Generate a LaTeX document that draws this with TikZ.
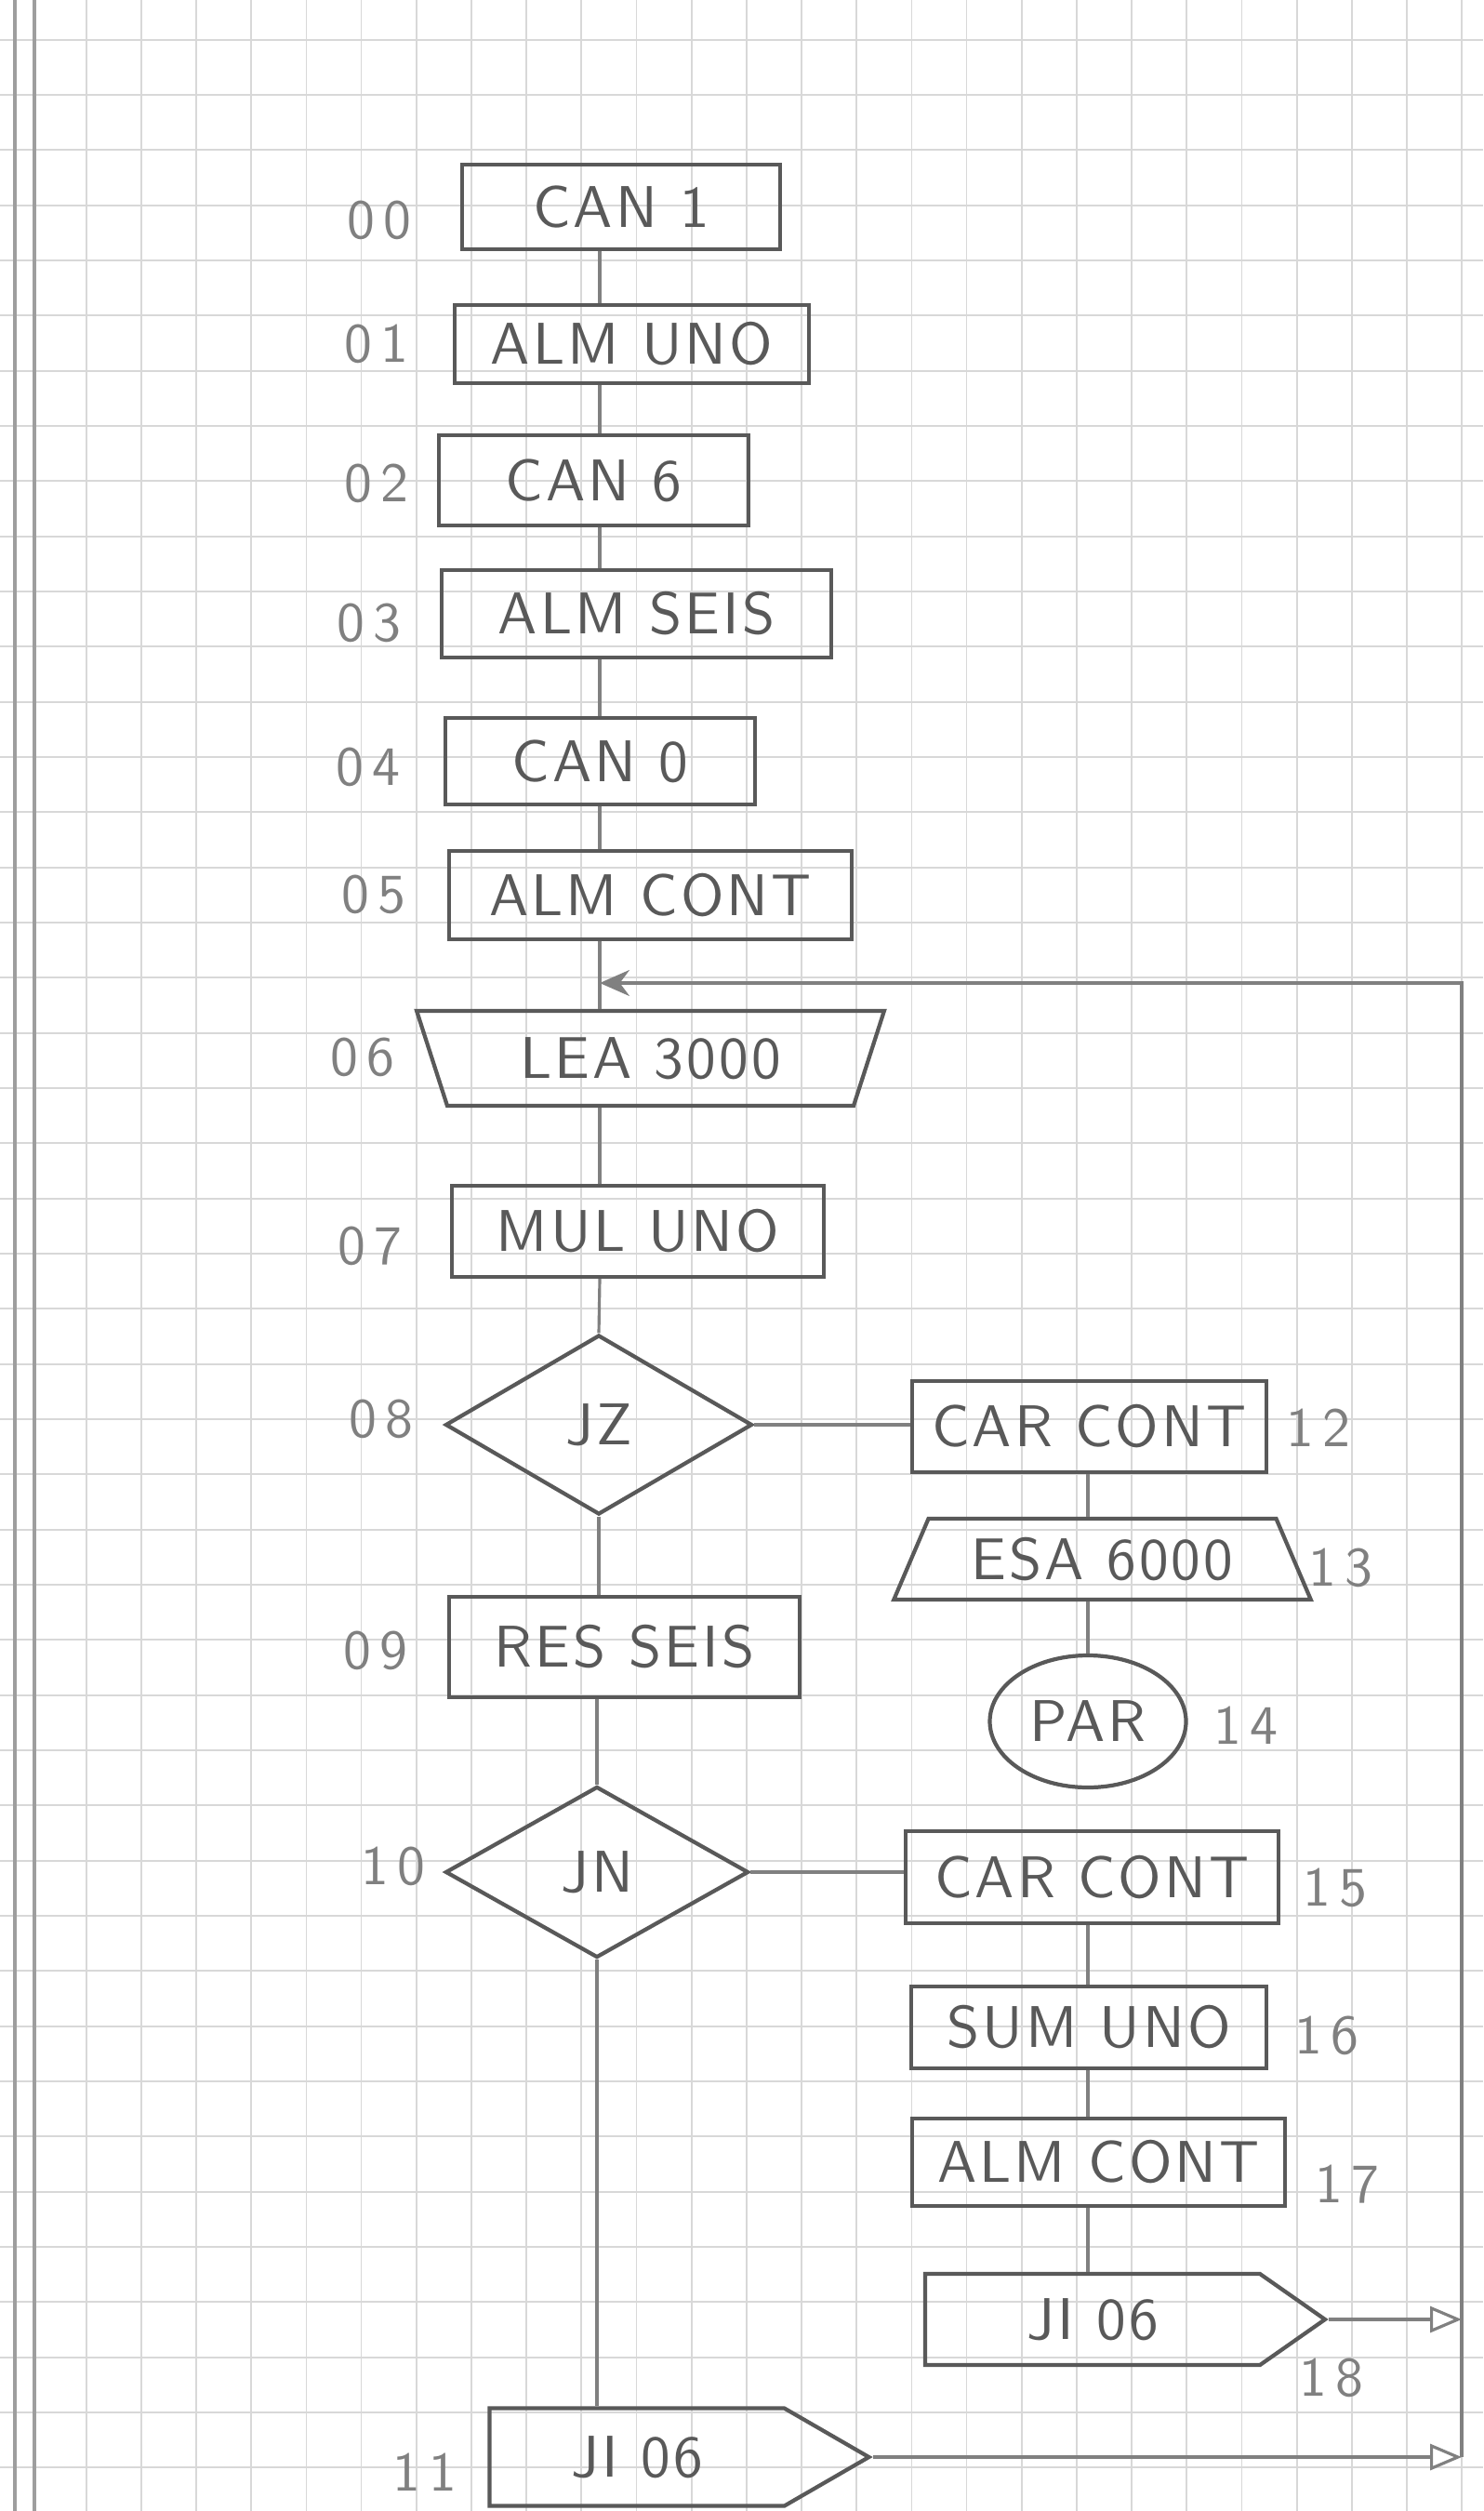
\documentclass[tikz,border=0pt]{standalone}
\usepackage{fontspec}
\usetikzlibrary{arrows.meta,shapes.geometric,shapes.symbols}
\definecolor{pencil}{HTML}{595959}
\definecolor{softlead}{HTML}{808080}
\definecolor{paperline}{HTML}{D8D8D8}
\definecolor{marginline}{HTML}{9E9E9E}
\newfontfamily\handfam{lmsans10-regular.otf}[LetterSpace=5]
\newfontfamily\addrfam{lmsans10-regular.otf}[LetterSpace=16]
\newcommand{\handfont}{\handfam\fontsize{18}{20}\selectfont}
\newcommand{\addrfont}{\addrfam\fontsize{17}{19}\selectfont}

\begin{document}
\begin{tikzpicture}[>=Stealth,
    every node/.style={font=\handfont, text=pencil, inner sep=0pt},
    instr/.style={rectangle, draw=pencil, line width=1.2pt},
    inbox/.style={trapezium, trapezium stretches=true, trapezium left angle=115, trapezium right angle=115, draw=pencil, line width=1.2pt},
    outbox/.style={trapezium, trapezium stretches=true, trapezium left angle=59, trapezium right angle=59, draw=pencil, line width=1.2pt},
    test/.style={diamond, aspect=1.7, draw=pencil, line width=1.2pt},
    haltnode/.style={ellipse, draw=pencil, line width=1.2pt},
    jumpbox/.style={signal, signal to=east, draw=pencil, line width=1.2pt},
    addr/.style={font=\addrfont, text=softlead},
    link/.style={draw=softlead, line width=0.9pt},
    gridline/.style={draw=paperline, line width=0.5pt}]
  % graph paper
  \fill[white] (0,0) rectangle (15.95,-27);
  \useasboundingbox (0,0) rectangle (15.95,-27);
  \foreach \k in {0,...,25} \draw[gridline] ({0.927+0.5918*\k},0) -- ++(0,-27);
  \foreach \k in {0,...,44} \draw[gridline] (0,{-0.427-0.5933*\k}) -- ++(15.95,0);
  \draw[marginline, line width=1.1pt] (0.16,0) -- (0.16,-27);
  \draw[marginline, line width=1.1pt] (0.37,0) -- (0.37,-27);

  \coordinate (spine) at (6.45,0);
  \coordinate (rspine) at (11.70,0);

  % main column
  \node[instr, minimum width=3.42cm, minimum height=0.91cm] (b00) at (6.68,-2.225) {CAN 1};
  \node[instr, minimum width=3.81cm, minimum height=0.84cm] (b01) at (6.795,-3.70) {ALM UNO};
  \node[instr, minimum width=3.33cm, minimum height=0.97cm] (b02) at (6.385,-5.165) {CAN 6};
  \node[instr, minimum width=4.19cm, minimum height=0.94cm] (b03) at (6.845,-6.60) {ALM SEIS};
  \node[instr, minimum width=3.33cm, minimum height=0.93cm] (b04) at (6.455,-8.185) {CAN 0};
  \node[instr, minimum width=4.33cm, minimum height=0.95cm] (b05) at (6.995,-9.625) {ALM CONT};
  \node[inbox, minimum width=5.07cm, minimum height=1.02cm] (t06) at (6.995,-11.38) {LEA 3000};
  \node[instr, minimum width=4.00cm, minimum height=0.98cm] (b07) at (6.86,-13.24) {MUL UNO};
  \node[test, minimum width=3.30cm, minimum height=1.93cm] (d08) at (6.44,-15.32) {JZ};
  \node[instr, minimum width=3.77cm, minimum height=1.08cm] (b09) at (6.715,-17.71) {RES SEIS};
  \node[test, minimum width=3.26cm, minimum height=1.84cm] (d10) at (6.42,-20.13) {JN};
  \node[jumpbox, signal pointer angle=60, minimum width=4.08cm, minimum height=1.05cm] (p11) at (6.85,-26.42) {JI 06};

  % right column
  \node[instr, minimum width=3.81cm, minimum height=0.98cm] (b12) at (11.715,-15.34) {CAR CONT};
  \node[outbox, minimum width=4.49cm, minimum height=0.87cm] (t13) at (11.855,-16.765) {ESA 6000};
  \node[haltnode, minimum width=2.11cm, minimum height=1.42cm] (e14) at (11.70,-18.51) {PAR};
  \node[instr, minimum width=4.01cm, minimum height=0.99cm] (b15) at (11.745,-20.185) {CAR CONT};
  \node[instr, minimum width=3.82cm, minimum height=0.88cm] (b16) at (11.71,-21.80) {SUM UNO};
  \node[instr, minimum width=4.01cm, minimum height=0.94cm] (b17) at (11.815,-23.25) {ALM CONT};
  \node[jumpbox, signal pointer angle=70, minimum width=4.30cm, minimum height=0.98cm] (p18) at (11.75,-24.94) {JI 06};

  % addresses
  \node[addr] (n00) at (4.08,-2.37) {00};
  \node[addr] (n01) at (4.05,-3.70) {01};
  \node[addr] (n02) at (4.05,-5.20) {02};
  \node[addr] (n03) at (3.97,-6.70) {03};
  \node[addr] (n04) at (3.96,-8.25) {04};
  \node[addr] (n05) at (4.02,-9.62) {05};
  \node[addr] (n06) at (3.90,-11.37) {06};
  \node[addr] (n07) at (3.98,-13.40) {07};
  \node[addr] (n08) at (4.10,-15.26) {08};
  \node[addr] (n09) at (4.04,-17.75) {09};
  \node[addr] (n10) at (4.23,-20.07) {10};
  \node[addr] (n11) at (4.57,-26.58) {11};
  \node[addr] (n12) at (14.18,-15.35) {12};
  \node[addr] (n13) at (14.42,-16.86) {13};
  \node[addr] (n14) at (13.40,-18.55) {14};
  \node[addr] (n15) at (14.36,-20.30) {15};
  \node[addr] (n16) at (14.27,-21.89) {16};
  \node[addr] (n17) at (14.49,-23.49) {17};
  \node[addr] (n18) at (14.32,-25.57) {18};

  % flow
  \draw[link] (b00.south -| spine) -- (b01.north -| spine);
  \draw[link] (b01.south -| spine) -- (b02.north -| spine);
  \draw[link] (b02.south -| spine) -- (b03.north -| spine);
  \draw[link] (b03.south -| spine) -- (b04.north -| spine);
  \draw[link] (b04.south -| spine) -- (b05.north -| spine);
  \draw[link] (b05.south -| spine) -- (t06.north -| spine);
  \draw[link] (t06.south -| spine) -- (b07.north -| spine);
  \draw[link] (b07.south -| spine) -- (d08.north);
  \draw[link] (d08.south) -- (b09.north -| d08.south);
  \draw[link] (b09.south -| d10.north) -- (d10.north);
  \draw[link] (d10.south) -- (p11.north -| d10.south);
  \draw[link] (d08.east) -- (d08.east -| b12.west);
  \draw[link] (b12.south -| rspine) -- (t13.north -| rspine);
  \draw[link] (t13.south -| rspine) -- (e14.north);
  \draw[link] (d10.east) -- (d10.east -| b15.west);
  \draw[link] (b15.south -| rspine) -- (b16.north -| rspine);
  \draw[link] (b16.south -| rspine) -- (b17.north -| rspine);
  \draw[link] (b17.south -| rspine) -- (p18.north -| rspine);

  % jump back to 06
  \coordinate (loop) at (15.72,-10.57);
  \coordinate (in06) at (6.45,-10.57);
  \draw[link, -{Triangle[open,length=0.34cm,width=0.28cm]}] (p18.east) -- (p18.east -| loop);
  \draw[link, -{Triangle[open,length=0.34cm,width=0.28cm]}] (p11.east) -- (p11.east -| loop);
  \draw[link, -{Stealth[length=0.32cm,width=0.28cm]}] (p11.east -| loop) -- (loop) -- (in06);
\end{tikzpicture}
\end{document}
